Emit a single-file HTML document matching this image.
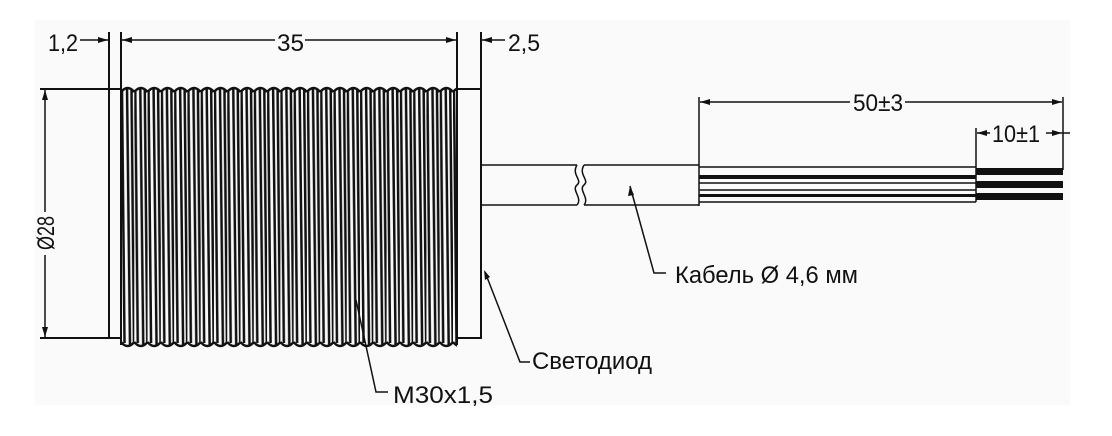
<!DOCTYPE html>
<html><head><meta charset="utf-8"><style>
html,body{margin:0;padding:0;background:#fff;}
svg{display:block}
text{font-family:"Liberation Sans",sans-serif;font-size:24px;fill:#111}
</style></head><body>
<svg width="1112" height="436" viewBox="0 0 1112 436" xmlns="http://www.w3.org/2000/svg">
<defs>
<marker id="a" viewBox="0 0 10 6" refX="10" refY="3" markerWidth="10" markerHeight="6" orient="auto-start-reverse" markerUnits="userSpaceOnUse"><path d="M0,0L10,3L0,6z" fill="#111"/></marker>
<pattern id="th" patternUnits="userSpaceOnUse" x="121" y="82" width="13.28" height="272">
<g stroke="#111" stroke-width="2.5" fill="none">
<path d="M0,10 q6.64,-8 13.28,0"/>
<path d="M0,260 q6.64,8 13.28,0"/>
<line x1="1" y1="9" x2="3.5" y2="261"/>
<line x1="6" y1="6" x2="9" y2="264"/>
<line x1="10.5" y1="8" x2="13" y2="262"/>
</g>
</pattern>
</defs>
<rect x="35" y="20" width="1035" height="385" fill="#fafafa"/>
<rect x="121" y="82" width="336" height="272" fill="url(#th)"/>
<g stroke="#111" stroke-width="2" fill="none">
<line x1="109" y1="32" x2="109" y2="339"/>
<line x1="121" y1="32" x2="121" y2="92"/>
<line x1="40" y1="89" x2="121" y2="89"/>
<line x1="40" y1="338" x2="121" y2="338"/>
<line x1="481" y1="32" x2="481" y2="339"/>
<line x1="457" y1="32" x2="457" y2="92"/>
<line x1="457" y1="89" x2="481" y2="89"/>
<line x1="457" y1="338" x2="481" y2="338"/>
<line x1="121" y1="89" x2="121" y2="345"/>
<line x1="457" y1="89" x2="457" y2="345"/>
</g>
<g stroke="#111" stroke-width="1.5" fill="none">
<line x1="80" y1="40" x2="108" y2="40" marker-end="url(#a)"/>
<line x1="122" y1="40" x2="275" y2="40" marker-start="url(#a)"/>
<line x1="305" y1="40" x2="456" y2="40" marker-end="url(#a)"/>
<line x1="482" y1="40" x2="505" y2="40" marker-start="url(#a)"/>
<line x1="45" y1="90" x2="45" y2="212" marker-start="url(#a)"/>
<line x1="45" y1="255" x2="45" y2="337" marker-end="url(#a)"/>
<line x1="481" y1="165" x2="577" y2="165"/>
<line x1="481" y1="205" x2="577" y2="205"/>
<line x1="584" y1="165" x2="699" y2="165"/>
<line x1="584" y1="205" x2="699" y2="205"/>
<path d="M577,165 C571,175 583,180 577,185 C571,190 583,198 577,205"/>
<path d="M584,165 C578,175 590,180 584,185 C578,190 590,198 584,205"/>
<line x1="699" y1="97" x2="699" y2="206"/>
<line x1="700" y1="102" x2="850" y2="102" marker-start="url(#a)"/>
<line x1="905" y1="102" x2="1062" y2="102" marker-end="url(#a)"/>
<line x1="1063" y1="97" x2="1063" y2="170"/>
<line x1="976" y1="128" x2="976" y2="202"/>
<line x1="977" y1="133" x2="990" y2="133" marker-start="url(#a)"/>
<line x1="1046" y1="133" x2="1070" y2="133"/>
</g>
<g stroke="#111" stroke-width="1.6" fill="none">
<line x1="699" y1="167" x2="976" y2="167"/>
<line x1="699" y1="190" x2="976" y2="190"/>
<line x1="699" y1="202" x2="976" y2="202"/>
<line x1="699" y1="183" x2="976" y2="183"/>
</g>
<path d="M1052,130 L1062,133 L1052,136z" fill="#111"/>
<g fill="#111">
<rect x="699" y="175" width="277" height="4"/>
<rect x="699" y="194" width="277" height="3"/>
<rect x="976" y="168" width="87" height="7"/>
<rect x="976" y="181" width="87" height="7"/>
<rect x="976" y="193" width="87" height="7"/>
</g>
<g stroke="#111" stroke-width="1.5" fill="none">
<polyline points="630,186 654,273 666,273"/>
<polyline points="485,272 520,362 530,362"/>
<polyline points="356,300 376,392 388,392"/>
</g>
<path d="M630,186 l-2,10 l6,-1z" fill="#111"/>
<path d="M484,270 l1,10 l5,-3z" fill="#111"/>
<text x="48" y="51" textLength="30" lengthAdjust="spacingAndGlyphs">1,2</text>
<text x="277" y="51" textLength="27" lengthAdjust="spacingAndGlyphs">35</text>
<text x="508" y="51" textLength="32" lengthAdjust="spacingAndGlyphs">2,5</text>
<text x="853" y="111" textLength="50" lengthAdjust="spacingAndGlyphs">50±3</text>
<text x="992" y="142" textLength="48" lengthAdjust="spacingAndGlyphs">10±1</text>
<text transform="translate(54,250) rotate(-90)" textLength="34" lengthAdjust="spacingAndGlyphs">Ø28</text>
<text x="675" y="283" textLength="183" lengthAdjust="spacingAndGlyphs">Кабель Ø 4,6 мм</text>
<text x="532" y="369" textLength="120" lengthAdjust="spacingAndGlyphs">Светодиод</text>
<text x="393" y="403" textLength="100" lengthAdjust="spacingAndGlyphs">M30x1,5</text>
</svg>
</body></html>
